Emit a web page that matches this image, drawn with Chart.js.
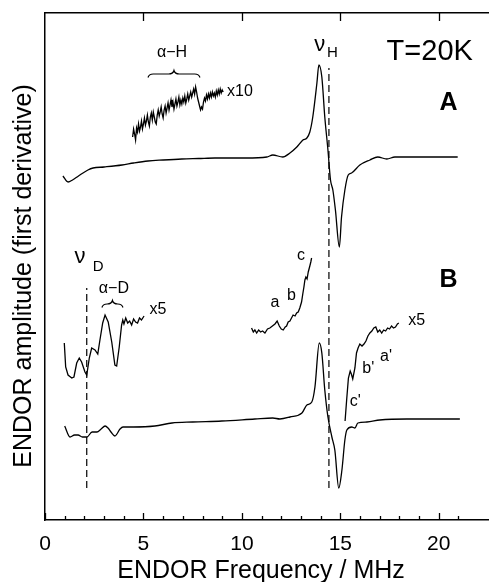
<!DOCTYPE html>
<html><head><meta charset="utf-8">
<script src="https://cdn.jsdelivr.net/npm/chart.js@4.4.1/dist/chart.umd.min.js"></script>
<style>
html,body{margin:0;padding:0;background:#fff;}
#wrap{width:489px;height:582px;position:relative;}
</style></head><body>
<div id="wrap"><canvas id="endor"></canvas></div>
<script>
/* ---- data: x in MHz, y in arbitrary amplitude units ---- */
// spectrum A (main trace)
const freqA = [0.91,1.17,1.4,1.7,2.18,2.44,3.0,3.91,4.5,5.23,6.0,6.95,7.8,8.63,9.5,10.2,11.27,11.57,12.08,12.44,12.79,13.1,13.3,13.45,13.6,13.81,13.91,14.06,14.21,14.37,14.5,14.62,14.75,14.95,15.06,15.23,15.4,15.57,15.99,16.5,16.9,17.36,17.77,18.68,20.96];
const ampA  = [344,338,340,344,350,352,353,355,357,359,360,361,361.5,362,362,362,363,365,363,367,373,380,382,388,403,437,455,443,403,370,340,330,310,273,303,330,345,347,355,360,363,361,363,363,363];
// spectrum A, alpha-H region x10
const freqAH = [4.45,4.5,4.55,4.6,4.65,4.7,4.75,4.8,4.85,4.9,4.95,5.0,5.05,5.1,5.15,5.2,5.25,5.3,5.35,5.4,5.45,5.5,5.55,5.6,5.65,5.7,5.75,5.8,5.85,5.9,5.95,6.0,6.05,6.1,6.15,6.2,6.25,6.3,6.35,6.4,6.45,6.5,6.55,6.6,6.65,6.7,6.75,6.8,6.85,6.9,6.95,7.0,7.05,7.1,7.15,7.2,7.25,7.3,7.35,7.4,7.45,7.5,7.55,7.6,7.65,7.7,7.75,7.8,7.85,7.9,7.95,8.0,8.05,8.1,8.15,8.2,8.25,8.3,8.35,8.4,8.45,8.5,8.55,8.6,8.65,8.7,8.75,8.8,8.85,8.9,8.95,9.0,9.05];
const ampAH  = [383,391,386,380,392,388,396,389,393,399,391,396,402,395,399,405,398,394,403,407,400,408,403,398,396,405,410,404,408,413,406,402,410,414,407,412,417,410,415,420,413,418,411,416,421,414,418,423,415,420,416,422,418,424,417,421,426,420,424,428,423,427,431,426,433,428,422,418,414,410,413,411,418,422,419,425,421,426,422,427,423,428,424,427,423,429,425,430,426,431,427,430,428];
// spectrum B (main trace)
const freqB = [1.0,1.27,1.5,1.68,1.9,2.13,2.39,2.64,2.85,3.05,3.2,3.35,3.55,3.81,3.96,4.5,5.58,6.45,7.5,8.98,10.66,11.57,11.93,12.44,13.05,13.3,13.55,13.71,13.93,14.06,14.21,14.37,14.57,14.72,14.92,15.08,15.23,15.33,15.58,15.74,15.89,16.35,17.0,18.38,21.07];
const ampB  = [94,83,85,85,83,83,88,88,91,94,92,88,84,91,93,93,94,97,98,99,101,102,101,103,107,115,118,133,177,167,130,103,83,70,32,50,80,90,93,92,97,98,100,101,101];
// spectrum B, low-frequency region x5
const freqBD = [0.98,1.05,1.17,1.36,1.47,1.61,1.74,1.86,2.03,2.12,2.25,2.37,2.54,2.68,2.79,2.93,3.05,3.21,3.39,3.55,3.64,3.77,3.89,3.95,4.01,4.1,4.2,4.3,4.4,4.5,4.6,4.7,4.8,4.9,5.03];
const ampBD  = [177,153,145,142,143,157,162,158,148,145,162,172,170,166,180,197,205,198,178,155,154,173,195,200,196,202,197,199,195,201,198,197,202,200,204];
// spectrum B, a/b/c region x5
const freqBabc = [10.49,10.58,10.66,10.75,10.85,10.95,11.05,11.17,11.3,11.42,11.55,11.68,11.79,11.9,12.0,12.1,12.2,12.27,12.35,12.44,12.52,12.6,12.7,12.78,12.86,12.94,13.03,13.1,13.15,13.2,13.25,13.31,13.37,13.45,13.5,13.54];
const ampBabc  = [192,188,190,187,190,188,189,187,191,192,194,196,199,194,191,190,193,194,198,199,202,205,204,207,208,212,218,227,233,240,243,241,248,254,258,262];
// spectrum B, a'/b'/c' region x5
const freqBp = [15.24,15.32,15.41,15.5,15.56,15.63,15.74,15.82,15.9,15.99,16.1,16.2,16.3,16.4,16.5,16.6,16.7,16.8,16.9,17.0,17.1,17.2,17.3,17.4,17.5,17.6,17.7,17.8,17.9,17.97];
const ampBp  = [99,120,142,149,146,141,152,167,172,176,174,176,179,184,187,189,192,193,188,190,187,190,189,192,191,194,192,193,196,197];
// Larmor frequency markers
const nuH = 14.42, nuHSpan = [32, 452];
const nuD = 2.12,  nuDSpan = [32, 232];
const xTicksMajor = [0, 5, 10, 15, 20];

const FONT = "'Liberation Sans', Arial, sans-serif";
const pts = (xs, ys) => xs.map((x, i) => ({x, y: ys[i]}));
const trace = (xs, ys, smooth) => ({data: pts(xs, ys), borderColor:'#000', borderWidth:1.3, pointRadius:0, tension: smooth ? 0.35 : 0, cubicInterpolationMode: smooth ? 'monotone' : 'default', fill:false});
const vline = (x, span) => ({data:[{x, y:span[0]}, {x, y:span[1]}], borderColor:'#000', borderWidth:1.2, borderDash:[7,4], pointRadius:0, fill:false});

// text placed in data coordinates
const notes = [
  {t:'T=20K', x:19.54, y:468, size:29},
  {t:'A', x:20.5, y:417, size:25, bold:true},
  {t:'B', x:20.5, y:240, size:25, bold:true},
  {t:'ν', x:13.96, y:475, size:22},
  {t:'H', x:14.6, y:467, size:15},
  {t:'ν', x:1.78, y:263, size:22},
  {t:'D', x:2.7, y:253, size:15},
  {t:'α−H', x:6.45, y:467, size:16},
  {t:'x10', x:9.9, y:428, size:16},
  {t:'α−D', x:3.5, y:231, size:16},
  {t:'x5', x:5.74, y:210, size:16},
  {t:'a', x:11.68, y:217, size:16},
  {t:'b', x:12.52, y:224, size:16},
  {t:'c', x:13.0, y:264, size:16},
  {t:'x5', x:18.88, y:199, size:16},
  {t:"b'", x:16.42, y:151, size:16},
  {t:"a'", x:17.32, y:163, size:16},
  {t:"c'", x:15.76, y:118, size:16},
];
// curly braces over the alpha regions: [from MHz, to MHz, level]
const braces = [[5.23, 7.87, 446], [2.89, 3.96, 216]];

const inwardTicks = {
  id:'inwardTicks',
  afterDraw(chart){
    const {ctx, chartArea:a, scales:{x}} = chart;
    ctx.save(); ctx.strokeStyle = '#000'; ctx.lineWidth = 1.3;
    x.ticks.forEach(t => {
      if (!Number.isInteger(t.value)) return;
      const px = Math.round(x.getPixelForValue(t.value)) + 0.5;
      const major = xTicksMajor.includes(t.value);
      ctx.beginPath(); ctx.moveTo(px, a.bottom); ctx.lineTo(px, a.bottom - (major ? 7 : 4)); ctx.stroke();
      if (major && t.value > 0){ ctx.beginPath(); ctx.moveTo(px, a.top); ctx.lineTo(px, a.top + 8); ctx.stroke(); }
    });
    ctx.restore();
  }
};

const annotate = {
  id:'annotate',
  afterDraw(chart){
    const {ctx, scales:{x, y}} = chart;
    ctx.save();
    ctx.fillStyle = '#000'; ctx.textAlign = 'center'; ctx.textBaseline = 'middle';
    notes.forEach(n => {
      ctx.font = (n.bold ? 'bold ' : '') + n.size + 'px ' + FONT;
      ctx.fillText(n.t, x.getPixelForValue(n.x), y.getPixelForValue(n.y));
    });
    // braces
    ctx.strokeStyle = '#000'; ctx.lineWidth = 1.2;
    braces.forEach(([x1, x2, lv]) => {
      const l = x.getPixelForValue(x1), r = x.getPixelForValue(x2), m = (l + r) / 2, yy = y.getPixelForValue(lv), h = 3.5;
      ctx.beginPath();
      ctx.moveTo(l, yy + h);
      ctx.quadraticCurveTo(l + 1, yy, l + h * 1.5, yy);
      ctx.lineTo(m - h * 1.5, yy);
      ctx.quadraticCurveTo(m - 1, yy, m, yy - h);
      ctx.quadraticCurveTo(m + 1, yy, m + h * 1.5, yy);
      ctx.lineTo(r - h * 1.5, yy);
      ctx.quadraticCurveTo(r - 1, yy, r, yy + h);
      ctx.stroke();
    });
    // axis titles
    ctx.font = '25px ' + FONT;
    ctx.fillText('ENDOR Frequency / MHz', 261, 571);
    ctx.translate(24, 276); ctx.rotate(-Math.PI / 2);
    ctx.fillText('ENDOR amplitude (first derivative)', 0, 0);
    ctx.restore();
  }
};

new Chart(document.getElementById('endor'), {
  type:'line',
  data:{ datasets:[
    trace(freqA, ampA, true),
    trace(freqAH, ampAH, false),
    trace(freqB, ampB, true),
    trace(freqBD, ampBD, false),
    trace(freqBabc, ampBabc, false),
    trace(freqBp, ampBp, false),
    vline(nuH, nuHSpan),
    vline(nuD, nuDSpan),
  ]},
  options:{
    responsive:true, maintainAspectRatio:false, animation:false,
    layout:{padding:0},
    plugins:{legend:{display:false}, tooltip:{enabled:false}},
    scales:{
      x:{type:'linear', position:'bottom', min:0, max:22.55,
        border:{display:true, color:'#000', width:1.5},
        grid:{display:false, drawTicks:false},
        ticks:{stepSize:1, autoSkip:false, maxRotation:0, padding:12, color:'#000', font:{size:21, family:FONT},
          callback:v => xTicksMajor.includes(v) ? String(v) : ''},
        afterFit:s => { s.height = 62; s.paddingLeft = 0; s.paddingRight = 0; }},
      xTop:{type:'linear', position:'top', min:0, max:22.55,
        border:{display:true, color:'#000', width:1.5},
        grid:{display:false, drawTicks:false}, ticks:{display:false},
        afterFit:s => { s.height = 13; s.paddingLeft = 0; s.paddingRight = 0; }},
      y:{type:'linear', position:'left', min:0, max:507,
        border:{display:true, color:'#000', width:1.5},
        grid:{display:false, drawTicks:false}, ticks:{display:false},
        afterFit:s => { s.width = 45; s.paddingTop = 0; s.paddingBottom = 0; }},
    }
  },
  plugins:[inwardTicks, annotate]
});
</script>
</body></html>
